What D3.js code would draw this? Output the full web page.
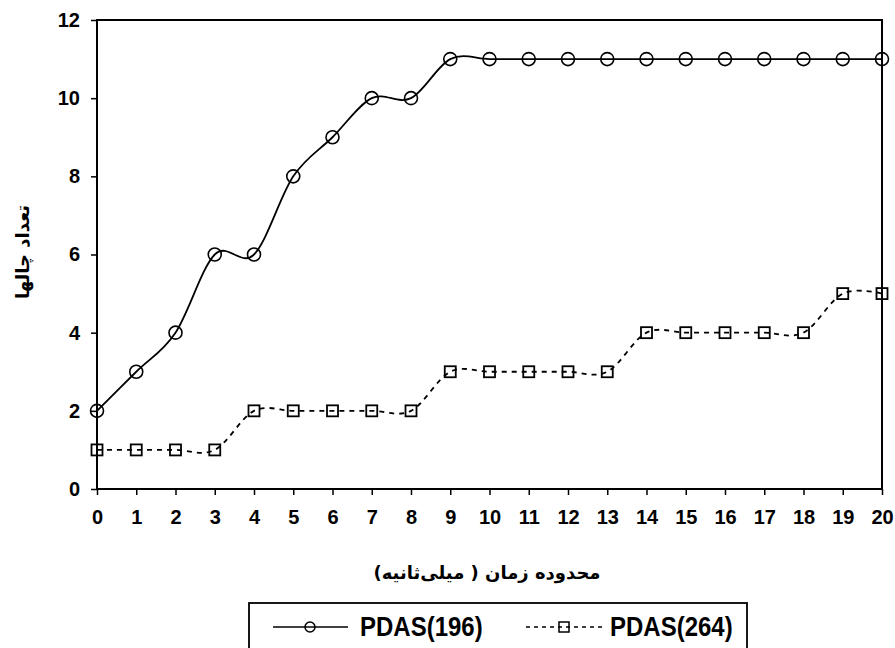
<!DOCTYPE html>
<html><head><meta charset="utf-8">
<script src="https://cdn.jsdelivr.net/npm/d3@7"></script>
<style>body{margin:0;background:#fff;} text{font-family:Arial,"Liberation Sans",sans-serif;}</style>
</head><body>
<svg id="c" width="895" height="648"></svg>
<script>
const xValues = [0,1,2,3,4,5,6,7,8,9,10,11,12,13,14,15,16,17,18,19,20];
const pdas196 = [2,3,4,6,6,8,9,10,10,11,11,11,11,11,11,11,11,11,11,11,11];
const pdas264 = [1,1,1,1,2,2,2,2,2,3,3,3,3,3,4,4,4,4,4,5,5];
const yTicks = [0,2,4,6,8,10,12];
const seriesNames = ["PDAS(196)","PDAS(264)"];
const xTitle = "محدوده زمان ( میلی‌ثانیه)";
const yTitle = "تعداد چالها";

const svg = d3.select("#c");
const L=97,R=882,T=20,B=489;
const x = d3.scaleLinear().domain([0,20]).range([L,R]);
const y = d3.scaleLinear().domain([0,12]).range([B,T]);

svg.append("rect").attr("x",L).attr("y",T).attr("width",R-L).attr("height",B-T)
  .attr("fill","none").attr("stroke","#000").attr("stroke-width",2);

const xa = svg.append("g").attr("transform",`translate(0,${B})`)
  .call(d3.axisBottom(x).tickValues(xValues).tickSize(6).tickPadding(15).tickFormat(d3.format("d")));
const ya = svg.append("g").attr("transform",`translate(${L},0)`)
  .call(d3.axisLeft(y).tickValues(yTicks).tickSize(6).tickPadding(11));
[xa,ya].forEach(a=>{
  a.select(".domain").remove();
  a.selectAll("line").attr("stroke","#000").attr("stroke-width",1.5);
  a.selectAll("text").style("font-size","20px").style("font-weight","bold").attr("fill","#000")
   .style("font-family","Arial,'Liberation Sans',sans-serif");
});

const line = d3.line().x((d,i)=>x(xValues[i])).y(d=>y(d)).curve(d3.curveCatmullRom.alpha(0));
svg.append("path").datum(pdas196).attr("d",line).attr("fill","none").attr("stroke","#000").attr("stroke-width",1.8);
svg.append("path").datum(pdas264).attr("d",line).attr("fill","none").attr("stroke","#000").attr("stroke-width",1.8).attr("stroke-dasharray","5,5");

svg.append("g").selectAll("circle").data(pdas196).join("circle")
  .attr("cx",(d,i)=>x(xValues[i])).attr("cy",d=>y(d)).attr("r",6.5)
  .attr("fill","none").attr("stroke","#000").attr("stroke-width",1.6);
svg.append("g").selectAll("rect").data(pdas264).join("rect")
  .attr("x",(d,i)=>x(xValues[i])-5.5).attr("y",d=>y(d)-5.5).attr("width",11).attr("height",11)
  .attr("fill","none").attr("stroke","#000").attr("stroke-width",1.8);

const persian = "'DejaVu Sans',sans-serif";
svg.append("text").attr("x",487).attr("y",579).attr("text-anchor","middle")
  .style("font-size","18px").style("font-weight","bold").style("font-family",persian).attr("direction","rtl").text(xTitle);
svg.append("text").attr("transform","translate(29,252) rotate(-90)").attr("text-anchor","middle")
  .style("font-size","18px").style("font-weight","bold").style("font-family",persian).attr("direction","rtl").text(yTitle);

// legend
const lg = svg.append("g");
lg.append("rect").attr("x",249).attr("y",603).attr("width",498).attr("height",50)
  .attr("fill","#fff").attr("stroke","#000").attr("stroke-width",1.8);
lg.append("line").attr("x1",273).attr("x2",348).attr("y1",627).attr("y2",627).attr("stroke","#000").attr("stroke-width",1.5);
lg.append("circle").attr("cx",310).attr("cy",627).attr("r",5).attr("fill","none").attr("stroke","#000").attr("stroke-width",1.5);
lg.append("text").attr("transform","translate(360,636) scale(1,1.12)").style("font-size","24px").style("font-weight","bold").text(seriesNames[0]);
lg.append("line").attr("x1",526).attr("x2",602).attr("y1",627).attr("y2",627).attr("stroke","#000").attr("stroke-width",1.5).attr("stroke-dasharray","4,4");
lg.append("rect").attr("x",559).attr("y",622).attr("width",10).attr("height",10).attr("fill","none").attr("stroke","#000").attr("stroke-width",1.5);
lg.append("text").attr("transform","translate(610,636) scale(1,1.12)").style("font-size","24px").style("font-weight","bold").text(seriesNames[1]);
</script>
</body></html>
